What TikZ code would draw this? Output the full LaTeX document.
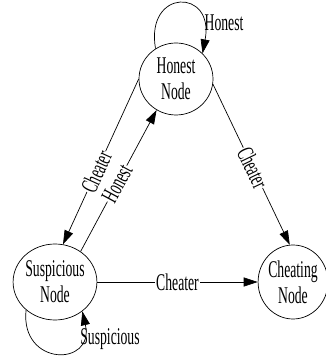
\documentclass[tikz,border=0pt]{standalone}
\usepackage{fontspec}
\setmainfont[FakeStretch=0.57]{Liberation Serif}
\usetikzlibrary{arrows.meta,shapes.geometric}
\begin{document}
\begin{tikzpicture}[x=1pt,y=1pt,
  every node/.style={font=\fontsize{24}{26}\selectfont},
  state/.style={draw,ellipse,line width=0.7pt,align=center,inner sep=0pt},
  edge/.style={draw,line width=0.7pt,-{Triangle[length=14pt,width=9pt]}},
  lbl/.style={fill=white,inner sep=1pt,sloped},
  plain/.style={inner sep=0pt}]
\useasboundingbox (0,0) rectangle (325,356);
\node[state,minimum width=74pt,minimum height=72pt] (H) at (176,277) {Honest\\Node};
\node[state,minimum width=74pt,minimum height=76pt] (S) at (55,74) {Suspicious\\Node};
\node[state,minimum width=62pt,minimum height=74pt] (C) at (293,74) {Cheating\\Node};
% self loops
\draw[edge] (H.124) .. controls (145,368) and (215,368) .. (H.44);
\node[plain] (hl) at (224,333) {Honest};
\draw[edge] (S.-136) .. controls (20,-11) and (95,-11) .. (S.-47);
\node[plain] (sl) at (110,17) {Suspicious};
% edges
\draw[edge] (H.-8) -- node[lbl,pos=0.52] {Cheater} (C.95);
\draw[edge] (H.west) -- node[lbl,pos=0.56] {Cheater} (S.78);
\draw[edge] (S.50) -- node[lbl,pos=0.48] {Honest} (H.-122);
\draw[edge] (S.east) -- node[fill=white,inner sep=1pt] {Cheater} (C.west);
\end{tikzpicture}
\end{document}
